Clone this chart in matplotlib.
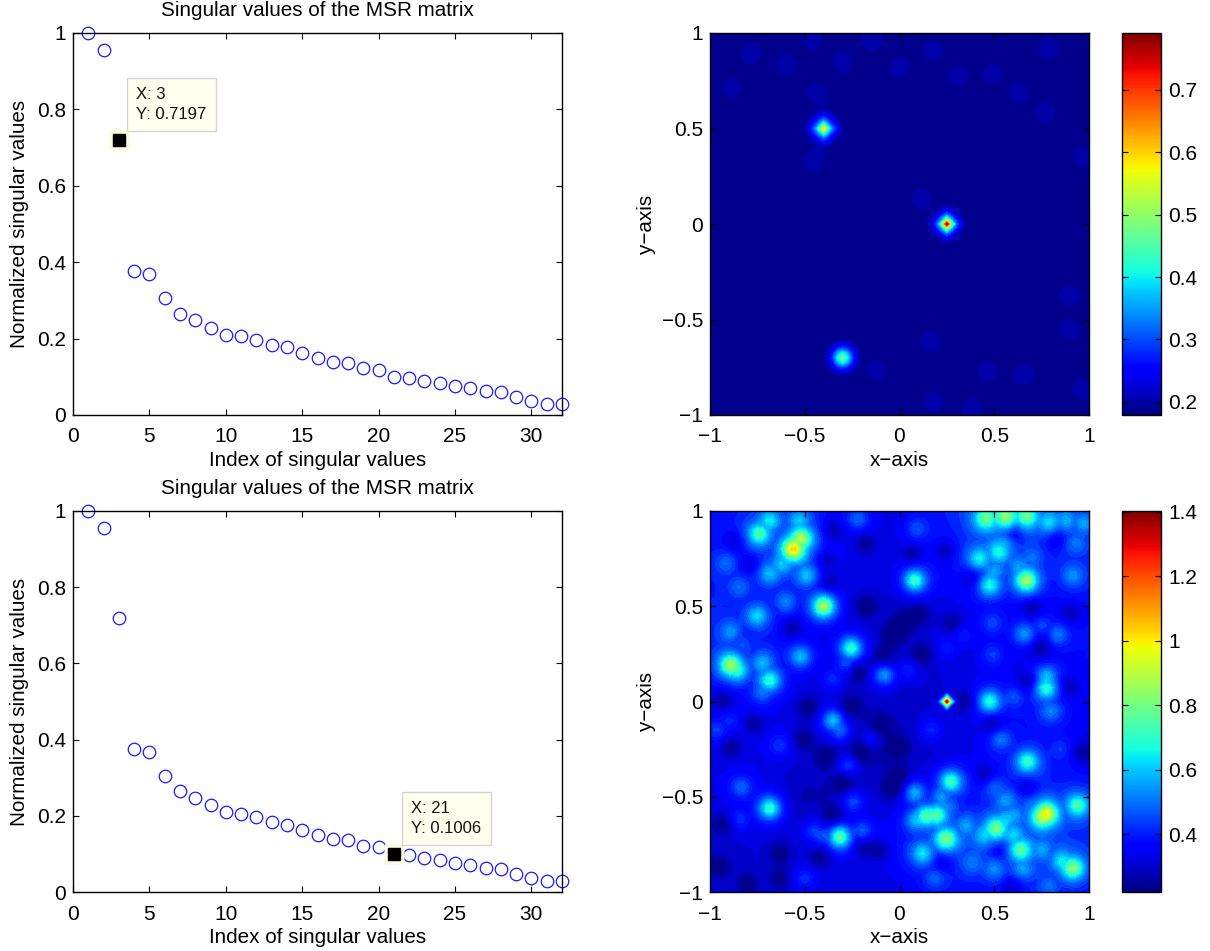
import numpy as np
import matplotlib
matplotlib.use('Agg')
import matplotlib.pyplot as plt
from matplotlib.cm import ScalarMappable
from matplotlib.colors import Normalize

plt.rcParams['font.family'] = ['Liberation Sans', 'DejaVu Sans']
plt.rcParams['axes.linewidth'] = 1.0

W, H = 1210, 951

index = list(range(1, 33))
singular = [1, .955, .7197, .376, .368, .305, .265, .248, .229, .21, .206, .196,
            .184, .177, .162, .149, .138, .136, .122, .118, .1006, .097, .089, .085,
            .076, .071, .064, .061, .047, .037, .03, .028]

# top map: diamonds (x, y, height, scale) and round bumps (x, y, height, sigma) above background
top_bg = 0.18
top_range = (0.179, 0.791)
top_diamonds = [(.25, 0, .47, .026), (-.40, .50, .28, .032)]
top_peaks = [(.25, 0, .14, .042), (-.40, .50, .14, .042), (-.30, -.70, .21, .032), (-.30, -.70, .08, .05)]
top_faint = [(-.785, .89), (-.60, .835), (-.885, .715), (-.465, .965), (-.145, .96), (-.30, .845),
             (0, .82), (.175, .905), (.31, .775), (.49, .785), (.63, .685), (.77, .585), (.785, .92),
             (.975, .355), (-.435, .685), (-.455, .33), (-.12, -.765), (.465, -.77), (.655, -.79),
             (.18, -.93), (.385, -.965), (.895, -.555), (.895, -.375), (.16, -.615), (.965, -.87),
             (.115, .13)]

# bottom map: broad level read on a 9x9 lattice, rows from y=1 down to y=-1
bot_range = (0.22, 1.403)
bot_level = [[.38, .40, .40, .33, .33, .40, .47, .45, .40],
             [.38, .40, .42, .33, .33, .37, .43, .39, .40],
             [.40, .37, .35, .31, .29, .33, .35, .35, .37],
             [.40, .40, .33, .31, .29, .31, .33, .33, .37],
             [.33, .35, .31, .29, .29, .31, .35, .37, .35],
             [.33, .33, .31, .27, .27, .31, .35, .37, .33],
             [.33, .33, .27, .29, .31, .35, .39, .41, .39],
             [.29, .31, .31, .33, .37, .43, .43, .43, .41],
             [.31, .31, .31, .31, .33, .37, .37, .39, .37]]
bot_peaks = [(-.56, .80, 1.0), (-.52, .855, .85), (-.74, .88, .7), (-.685, .95, .6), (-.40, .50, .9),
             (-.75, .45, .6), (-.89, .19, .85), (-.86, .165, .7), (-.685, .11, .7), (-.72, .2, .55),
             (-.52, .235, .6), (-.255, .28, .75), (-.685, .67, .55), (-.49, .66, .55), (-.60, .52, .5),
             (-.89, .365, .5), (-.845, .6, .45), (-.915, .725, .45), (-.22, .96, .5), (.08, .635, .75),
             (.09, .905, .45), (.475, .61, .65), (.67, .635, .85), (.42, .75, .6), (.525, .785, .6),
             (.63, .705, .5), (.915, .66, .5), (.93, .83, .45), (.975, .935, .5), (.79, .94, .55),
             (.455, .96, .7), (.56, .97, .75), (.67, .97, .7), (.775, .07, .7), (.775, .13, .6),
             (.66, .355, .55), (.835, .35, .5), (.49, .41, .45), (.49, .245, .45), (.475, 0, .7),
             (.6, .025, .45), (-.08, .14, .6), (.045, .165, .45), (-.35, -.1, .65), (-.315, -.15, .55),
             (-.965, -.15, .45), (-.63, -.23, .45), (-.27, -.335, .5), (-.15, -.195, .45), (.165, -.15, .45),
             (.675, -.315, .7), (.535, -.2, .5), (.27, -.42, .75), (.08, -.48, .6), (.775, -.59, .95),
             (.755, -.605, .85), (.94, -.545, .7), (.14, -.6, .75), (.195, -.595, .75), (.09, -.62, .6),
             (.51, -.665, .75), (.245, -.72, .75), (.12, -.8, .6), (.64, -.78, .7), (.915, -.875, .8),
             (.86, -.84, .6), (-.315, -.71, .8), (-.405, -.70, .5), (-.245, -.525, .5), (-.685, -.56, .75),
             (-.835, -.45, .5), (-.845, -.62, .45), (-.5, -.93, .45), (.185, -.93, .45), (.385, -.85, .45),
             (.56, -.52, .5), (.79, -.97, .45),
             (-.53, .95, .55), (-.62, .72, .55), (.50, .68, .5), (.55, .82, .5), (.70, .75, .45), (.88, .95, .5),
             (.25, -.55, .5), (.35, -.65, .5), (.45, -.70, .55), (.6, -.6, .5), (.6, -.7, .55), (.7, -.55, .45),
             (.65, -.88, .5), (.75, -.78, .48), (.5, -.88, .48), (-.2, -.68, .5), (-.45, -.68, .48),
             (-.9, -.1, .42), (-.82, .3, .5), (-.72, .05, .5), (-.28, .2, .5), (-.35, .12, .45), (.22, -.5, .55),
             (.33, .35, .42), (.25, .28, .42), (.75, .4, .45), (.8, -.05, .5), (.85, -.25, .42), (.5, -.45, .45),
             (.56, -.62, .55)]
bot_main = (.25, 0, 1.40)
bot_dark = [(.38, .645), (.605, .88), (.07, .775), (-.87, .84), (.35, 0), (.49, -.115), (.28, .41),
            (.905, .46), (-.89, -.24), (-.42, -.815), (.23, -.84), (-.51, -.2), (-.48, -.035), (-.35, .9),
            (.02, .41), (-.22, .155), (.115, .245), (.89, .075), (-.79, .72), (-.37, .62), (.745, .285),
            (.965, -.27), (0, -.395), (-.3, -.43), (-.93, -.64), (-.8, -.955), (-.63, -.93), (-.19, -.76),
            (.525, -.78), (.455, -.385), (.675, -.45),
            (-.035, .355), (.105, .46), (-.175, .5), (-.09, .235), (-.26, -.03), (-.105, -.13), (-.02, -.24),
            (-.2, -.27), (-.385, -.29), (-.35, -.6), (-.77, -.115), (-.93, .005), (-.57, .385), (-.81, .305),
            (-.39, .74), (-.18, .83), (.245, .795), (.825, .85), (.7, .49), (.675, .105), (-.105, -.78),
            (-.63, -.8), (-.95, -.87), (.6, -.97), (-.035, -.465)]

grid = np.linspace(-1, 1, 81)
X, Y = np.meshgrid(grid, grid)


def bump(x0, y0, amp, sig):
    return amp * np.exp(-((X - x0) ** 2 + (Y - y0) ** 2) / (2 * sig ** 2))


def diamond(x0, y0, amp, s):
    return amp * np.exp(-(np.abs(X - x0) + np.abs(Y - y0)) / s)


Ztop = np.full_like(X, top_bg)
for x0, y0, a, s in top_diamonds:
    Ztop += diamond(x0, y0, a, s)
for x0, y0, a, s in top_peaks:
    Ztop += bump(x0, y0, a, s)
for x0, y0 in top_faint:
    Ztop += bump(x0, y0, .03, .042)
Ztop = np.clip(Ztop, top_range[0], top_range[1])

lat = np.linspace(-1, 1, 9)
level_rows = np.array(bot_level)[::-1]
Zlow = np.array([np.interp(grid, lat, r) for r in level_rows])
Zlow = np.array([np.interp(grid, lat, c) for c in Zlow.T]).T

Zbot = Zlow.copy()
for x0, y0, v in bot_peaks:
    a = v - .34
    Zbot = np.maximum(Zbot, Zlow + bump(x0, y0, .55 * a, .03) + bump(x0, y0, .45 * a, .06))
for x0, y0 in bot_dark:
    Zbot -= bump(x0, y0, .10, .04)
Zbot = np.maximum(Zbot, diamond(bot_main[0], bot_main[1], bot_main[2], .035))
Zbot = np.clip(Zbot, bot_range[0], bot_range[1])


def px_axes(fig, l, t, r, b):
    return fig.add_axes([l / W, 1 - b / H, (r - l) / W, (b - t) / H])


def style(ax):
    ax.tick_params(direction='in', length=4, width=.8, labelsize=15, pad=5, top=True, right=True)
    ax.tick_params(axis='x', pad=9)
    for s in ax.spines.values():
        s.set_linewidth(1.0)


fig = plt.figure(figsize=(W / 100, H / 100), dpi=100)


def scatter_panel(t, b, sel):
    ax = px_axes(fig, 73, t, 562, b)
    ax.plot(index, singular, ls='none', marker='o', ms=9, mfc='none', mec='#1a1aff', mew=.9, clip_on=False)
    ax.set_xlim(0, 32)
    ax.set_ylim(0, 1)
    ax.set_xticks([0, 5, 10, 15, 20, 25, 30])
    ax.set_yticks([0, .2, .4, .6, .8, 1])
    ax.set_yticklabels(['0', '0.2', '0.4', '0.6', '0.8', '1'])
    style(ax)
    ax.set_xlabel('Index of singular values', fontsize=14.9, labelpad=3)
    ax.set_ylabel('Normalized singular values', fontsize=14.9, labelpad=5.5)
    ax.set_title('Singular values of the MSR matrix', fontsize=14.9, pad=12)
    xs, ys = index[sel], singular[sel]
    ax.plot([xs], [ys], ls='none', marker='s', ms=14.4, mfc='#fbfbdc', mec='none', clip_on=False, zorder=4)
    ax.plot([xs], [ys], ls='none', marker='s', ms=8.4, mfc='k', mec='k', clip_on=False, zorder=5)
    ax.annotate(f'X: {xs}\nY: {ys:.4f}', xy=(xs, ys), xytext=(12.5, 13), textcoords='offset points',
                fontsize=12, va='bottom', ha='left', linespacing=1.4, color='#111111', zorder=6,
                bbox=dict(boxstyle='square,pad=0.55', fc='#ffffee', ec='#d4d4d4', lw=1))


def map_panel(t, b, Z, rng, ticks, ticklabels):
    ax = px_axes(fig, 710, t, 1089, b)
    levels = np.linspace(rng[0], rng[1], 41)
    ax.contourf(X, Y, Z, levels=levels, cmap='jet', vmin=rng[0], vmax=rng[1])
    ax.set_xlim(-1, 1)
    ax.set_ylim(-1, 1)
    ax.set_xticks([-1, -.5, 0, .5, 1])
    ax.set_yticks([-1, -.5, 0, .5, 1])
    ax.set_xticklabels(['\u22121', '\u22120.5', '0', '0.5', '1'])
    ax.set_yticklabels(['\u22121', '\u22120.5', '0', '0.5', '1'])
    style(ax)
    ax.set_xlabel('x\u2212axis', fontsize=14.9, labelpad=3)
    ax.set_ylabel('y\u2212axis', fontsize=14.9, labelpad=4)
    cax = px_axes(fig, 1122, t, 1161, b)
    cb = fig.colorbar(ScalarMappable(Normalize(rng[0], rng[1]), 'jet'), cax=cax, ticks=ticks)
    cb.ax.set_yticklabels(ticklabels)
    cb.ax.tick_params(direction='in', length=4, width=.8, labelsize=15, pad=5, left=True, right=True)
    cb.outline.set_linewidth(1.0)


scatter_panel(33, 415, 2)
scatter_panel(511, 892, 20)
map_panel(33, 415, Ztop, top_range, [.2, .3, .4, .5, .6, .7], ['0.2', '0.3', '0.4', '0.5', '0.6', '0.7'])
map_panel(511, 892, Zbot, bot_range, [.4, .6, .8, 1, 1.2, 1.4], ['0.4', '0.6', '0.8', '1', '1.2', '1.4'])

fig.savefig('out.png', dpi=100, facecolor='white')
